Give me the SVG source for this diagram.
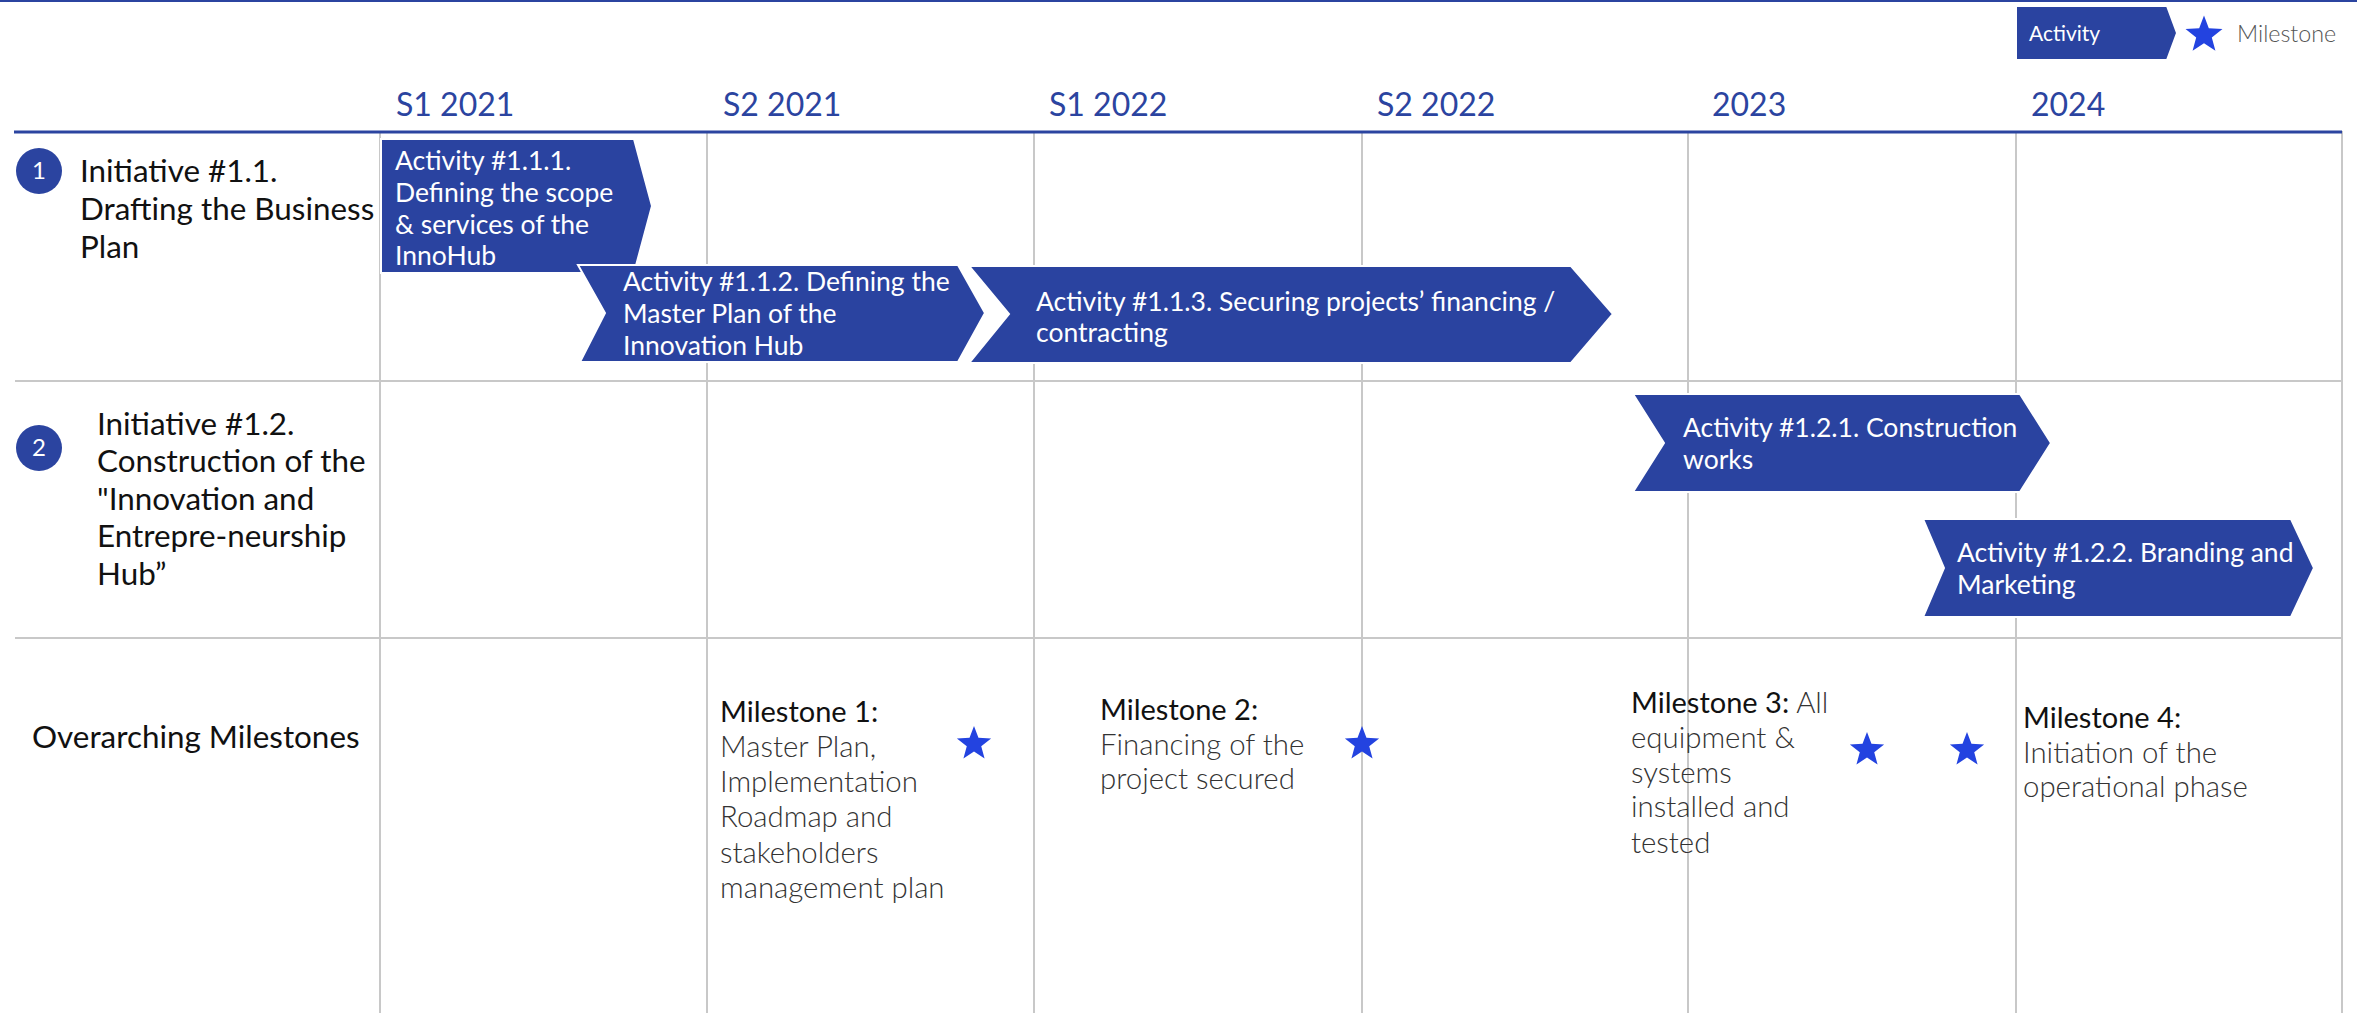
<svg xmlns="http://www.w3.org/2000/svg" width="2357" height="1013" viewBox="0 0 2357 1013">
  <style>
    .grid { stroke: #c8c8c8; stroke-width: 2; fill: none; }
    .hdr { font-family: Lato, "Open Sans", "Liberation Sans", sans-serif; font-size: 32px; fill: #2b44a0; }
    .init { font-family: Lato, "Open Sans", "Liberation Sans", sans-serif; font-size: 31.4px; fill: #111111; }
    .num { font-family: Lato, "Open Sans", "Liberation Sans", sans-serif; font-size: 24px; fill: #ffffff; text-anchor: middle; }
    .bar { fill: #2a43a0; stroke: #ffffff; stroke-width: 2; }
    .act { font-family: Lato, "Open Sans", "Liberation Sans", sans-serif; font-size: 26.5px; fill: #ffffff; }
    .mh { font-family: Lato, "Open Sans", "Liberation Sans", sans-serif; font-size: 29px; fill: #111111; }
    .mb { font-family: Lato, "Open Sans", "Liberation Sans", sans-serif; font-size: 29.4px; fill: #333333; font-weight: 300; }
    .star { fill: #2343e0; }
  </style>
  <defs>
    <path id="star" d="M0,-18 L4.467,-6.149 L17.119,-5.562 L7.228,2.349 L10.580,14.562 L0,7.6 L-10.580,14.562 L-7.228,2.349 L-17.119,-5.562 L-4.467,-6.149 Z"/>
  </defs>

  <rect width="2357" height="1013" fill="#ffffff"/>
  <!-- top rule -->
  <line x1="0" y1="1" x2="2357" y2="1" stroke="#2b44a0" stroke-width="2"/>

  <!-- legend -->
  <g id="legend">
    <path class="bar" d="M2016,6 L2167,6 L2177,33 L2167,60 L2016,60 Z" stroke="none"/>
    <text x="2029" y="41" font-family="Lato, 'Open Sans', 'Liberation Sans', sans-serif" font-size="21" fill="#ffffff">Activity</text>
    <use href="#star" class="star" transform="translate(2204,35) scale(1.08)"/>
    <text x="2237" y="42" font-family="Lato, 'Open Sans', 'Liberation Sans', sans-serif" font-size="23.3" fill="#555555" font-weight="300">Milestone</text>
  </g>

  <!-- time grid -->
  <g id="grid">
    <line class="grid" x1="380" y1="131" x2="380" y2="1013"/>
    <line class="grid" x1="707" y1="131" x2="707" y2="1013"/>
    <line class="grid" x1="1034" y1="131" x2="1034" y2="1013"/>
    <line class="grid" x1="1362" y1="131" x2="1362" y2="1013"/>
    <line class="grid" x1="1688" y1="131" x2="1688" y2="1013"/>
    <line class="grid" x1="2016" y1="131" x2="2016" y2="1013"/>
    <line class="grid" x1="2342" y1="131" x2="2342" y2="1013"/>
    <line class="grid" x1="15" y1="381" x2="2342" y2="381"/>
    <line class="grid" x1="15" y1="638" x2="2342" y2="638"/>
    <line x1="14" y1="132" x2="2342" y2="132" stroke="#2b44a0" stroke-width="3"/>
  </g>

  <!-- period headers -->
  <g id="headers">
    <text class="hdr" x="396" y="116">S1 2021</text>
    <text class="hdr" x="723" y="116">S2 2021</text>
    <text class="hdr" x="1049" y="116">S1 2022</text>
    <text class="hdr" x="1377" y="116">S2 2022</text>
    <text class="hdr" x="1712" y="116">2023</text>
    <text class="hdr" x="2031" y="116">2024</text>
  </g>

  <!-- initiative 1.1 -->
  <g id="initiative-1-1">
    <circle cx="39" cy="171" r="23" fill="#2b44a0"/>
    <text class="num" x="39" y="179">1</text>
    <text class="init" x="80" y="182">Initiative #1.1.<tspan x="80" y="220">Drafting the Business</tspan><tspan x="80" y="258">Plan</tspan></text>
  </g>

  <!-- initiative 1.2 -->
  <g id="initiative-1-2">
    <circle cx="39" cy="448" r="23" fill="#2b44a0"/>
    <text class="num" x="39" y="456">2</text>
    <text class="init" x="97" y="435">Initiative #1.2.<tspan x="97" y="472">Construction of the</tspan><tspan x="97" y="510">"Innovation and</tspan><tspan x="97" y="547">Entrepre-neurship</tspan><tspan x="97" y="585">Hub”</tspan></text>
  </g>

  <g id="milestones-row">
    <text class="init" x="32" y="748">Overarching Milestones</text>
  </g>

  <!-- activities -->
  <g id="activity-1-1-1">
    <path class="bar" d="M381,139 L634,139 L652,206 L634,273 L381,273 Z"/>
    <text class="act" x="395" y="170">Activity #1.1.1.<tspan x="395" y="202">Defining the scope</tspan><tspan x="395" y="234">&amp; services of the</tspan><tspan x="395" y="265">InnoHub</tspan></text>
  </g>
  <g id="activity-1-1-2">
    <path class="bar" d="M578,265 L958,265 L985,313 L958,362 L580,362 L605,313 Z"/>
    <text class="act" x="623" y="291">Activity #1.1.2. Defining the<tspan x="623" y="323">Master Plan of the</tspan><tspan x="623" y="355">Innovation Hub</tspan></text>
  </g>
  <g id="activity-1-1-3">
    <path class="bar" d="M969,266 L1571,266 L1613,314 L1571,363 L969,363 L1009,314 Z"/>
    <text class="act" x="1036" y="311">Activity #1.1.3. Securing projects’ financing /<tspan x="1036" y="342">contracting</tspan></text>
  </g>
  <g id="activity-1-2-1">
    <path class="bar" d="M1633,394 L2020,394 L2051,443 L2020,492 L1633,492 L1664,443 Z"/>
    <text class="act" x="1683" y="437">Activity #1.2.1. Construction<tspan x="1683" y="469">works</tspan></text>
  </g>
  <g id="activity-1-2-2">
    <path class="bar" d="M1923,519 L2291,519 L2314,568 L2291,617 L1923,617 L1944,568 Z"/>
    <text class="act" x="1957" y="562">Activity #1.2.2. Branding and<tspan x="1957" y="594">Marketing</tspan></text>
  </g>

  <!-- milestones -->
  <g id="milestone-1">
    <text class="mh" x="720" y="722">Milestone 1:</text>
    <text class="mb" x="720" y="757">Master Plan,<tspan x="720" y="792">Implementation</tspan><tspan x="720" y="827">Roadmap and</tspan><tspan x="720" y="863">stakeholders</tspan><tspan x="720" y="898">management plan</tspan></text>
    <use href="#star" class="star" x="974" y="744"/>
  </g>
  <g id="milestone-2">
    <text class="mh" x="1100" y="720">Milestone 2:</text>
    <text class="mb" x="1100" y="755">Financing of the<tspan x="1100" y="789">project secured</tspan></text>
    <use href="#star" class="star" x="1362" y="744"/>
  </g>
  <g id="milestone-3">
    <text class="mh" x="1631" y="713">Milestone 3:<tspan class="mb"> All</tspan></text>
    <text class="mb" x="1631" y="748">equipment &amp;<tspan x="1631" y="783">systems</tspan><tspan x="1631" y="817">installed and</tspan><tspan x="1631" y="853">tested</tspan></text>
    <use href="#star" class="star" x="1867" y="750"/>
    <use href="#star" class="star" x="1967" y="750"/>
  </g>
  <g id="milestone-4">
    <text class="mh" x="2023" y="728">Milestone 4:</text>
    <text class="mb" x="2023" y="763">Initiation of the<tspan x="2023" y="797">operational phase</tspan></text>
  </g>
</svg>
